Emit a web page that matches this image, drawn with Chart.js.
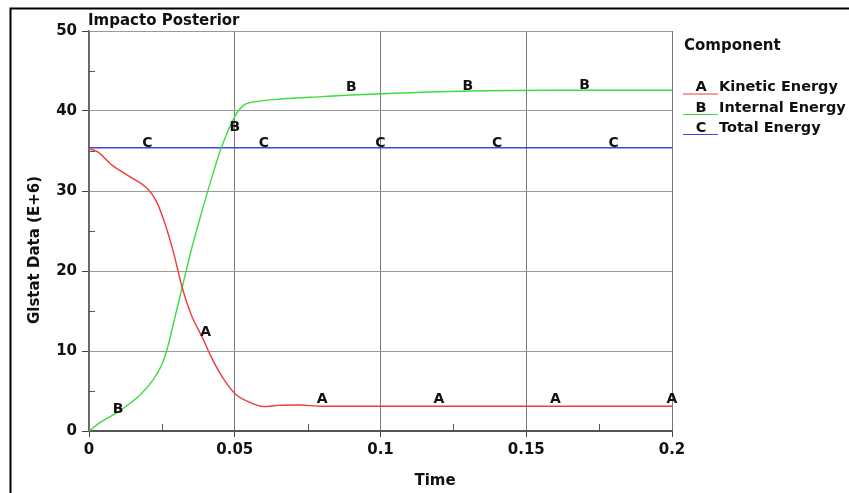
<!DOCTYPE html>
<html>
<head>
<meta charset="utf-8">
<script src="https://cdn.jsdelivr.net/npm/chart.js@4/dist/chart.umd.min.js"></script>
<style>
  html, body { margin: 0; padding: 0; background: #fff; }
  #wrap { width: 849px; height: 493px; }
</style>
</head>
<body>
<div id="wrap"><canvas id="chart" width="849" height="493"></canvas></div>
<script>
// values (time in s, energy in E+6)
var kineticTime = [0, 0.003, 0.008, 0.014, 0.02, 0.023, 0.026, 0.029, 0.032, 0.035, 0.039, 0.042, 0.046, 0.05, 0.055, 0.06, 0.065, 0.072, 0.08, 0.1, 0.15, 0.2];
var kinetic     = [35.3, 34.9, 33.2, 31.8, 30.3, 28.8, 26.0, 22.3, 17.9, 14.6, 11.6, 9.2, 6.6, 4.7, 3.6, 3.05, 3.2, 3.25, 3.1, 3.1, 3.1, 3.1];

var internalTime = [0, 0.004, 0.01, 0.0175, 0.022, 0.025, 0.027, 0.029, 0.032, 0.035, 0.038, 0.041, 0.045, 0.05, 0.053, 0.058, 0.066, 0.08, 0.09, 0.107, 0.13, 0.16, 0.2];
var internal     = [0, 1.1, 2.4, 4.5, 6.4, 8.3, 10.5, 13.5, 18.0, 22.5, 26.5, 30.3, 35.0, 39.3, 40.7, 41.2, 41.5, 41.8, 42.0, 42.25, 42.5, 42.6, 42.6];

var totalTime = [0, 0.2];
var total     = [35.4, 35.4];

// curve letters (LS-PrePost style markers)
var markA = [[0.04, 12.3], [0.08, 3.9], [0.12, 3.9], [0.16, 3.9], [0.2, 3.9]];
var markB = [[0.01, 2.75], [0.05, 37.9], [0.09, 42.9], [0.13, 43.1], [0.17, 43.25]];
var markC = [[0.02, 36.0], [0.06, 36.0], [0.1, 36.0], [0.14, 36.0], [0.18, 36.0]];

var seriesNames = ['Kinetic Energy', 'Internal Energy', 'Total Energy'];
var seriesLetters = ['A', 'B', 'C'];
var colors = ['#ee3b3b', '#3fdc3f', '#4444d6'];

var FONT = '"DejaVu Sans", sans-serif';

function pairs(xs, ys) {
  return xs.map(function(x, i) { return { x: x, y: ys[i] }; });
}

var decorPlugin = {
  id: 'decor',
  beforeDraw: function(chart) {
    var ctx = chart.ctx;
    ctx.save();
    ctx.fillStyle = '#fff';
    ctx.fillRect(0, 0, chart.width, chart.height);
    ctx.restore();
  },
  afterDraw: function(chart) {
    var ctx = chart.ctx;
    var xs = chart.scales.x, ys = chart.scales.y;
    var area = chart.chartArea;
    ctx.save();

    // minor ticks
    ctx.strokeStyle = '#555';
    ctx.lineWidth = 1;
    ctx.beginPath();
    [0.025, 0.075, 0.125, 0.175].forEach(function(v) {
      var px = Math.round(xs.getPixelForValue(v)) + 0.5;
      ctx.moveTo(px, area.bottom);
      ctx.lineTo(px, area.bottom - 7);
    });
    [5, 15, 25, 35, 45].forEach(function(v) {
      var py = Math.round(ys.getPixelForValue(v)) + 0.5;
      ctx.moveTo(area.left, py);
      ctx.lineTo(area.left + 6, py);
    });
    ctx.stroke();

    // letters on curves
    ctx.fillStyle = '#111';
    ctx.font = 'bold 14px ' + FONT;
    ctx.textAlign = 'center';
    ctx.textBaseline = 'middle';
    [markA, markB, markC].forEach(function(list, k) {
      list.forEach(function(p) {
        ctx.fillText(seriesLetters[k], xs.getPixelForValue(p[0]), ys.getPixelForValue(p[1]));
      });
    });

    // title and axis titles
    ctx.font = 'bold 15px ' + FONT;
    ctx.textAlign = 'left';
    ctx.fillText('Impacto Posterior', 88, 21);
    ctx.textAlign = 'center';
    ctx.fillText('Time', 435, 481);
    ctx.save();
    ctx.translate(35, 250);
    ctx.rotate(-Math.PI / 2);
    ctx.fillText('Glstat Data (E+6)', 0, 0);
    ctx.restore();

    // legend
    ctx.textAlign = 'left';
    ctx.fillText('Component', 684, 46);
    ctx.font = 'bold 14.5px ' + FONT;
    var rows = [87.5, 108, 128];
    seriesNames.forEach(function(name, i) {
      ctx.strokeStyle = colors[i];
      ctx.lineWidth = 1.2;
      ctx.beginPath();
      ctx.moveTo(683, rows[i] + 6.5);
      ctx.lineTo(718, rows[i] + 6.5);
      ctx.stroke();
      ctx.fillStyle = '#111';
      ctx.textAlign = 'center';
      ctx.fillText(seriesLetters[i], 701, rows[i]);
      ctx.textAlign = 'left';
      ctx.fillText(name, 719, rows[i]);
    });

    // frame of the picture (left and top edges only)
    ctx.strokeStyle = '#000';
    ctx.lineWidth = 2;
    ctx.beginPath();
    ctx.moveTo(10.5, chart.height);
    ctx.lineTo(10.5, 8.5);
    ctx.lineTo(chart.width, 8.5);
    ctx.stroke();
    ctx.restore();
  }
};

var data = {
  datasets: [
    { label: seriesNames[0], data: pairs(kineticTime, kinetic), borderColor: colors[0] },
    { label: seriesNames[1], data: pairs(internalTime, internal), borderColor: colors[1] },
    { label: seriesNames[2], data: pairs(totalTime, total), borderColor: colors[2] }
  ].map(function(d) {
    d.borderWidth = 1.4;
    d.pointRadius = 0;
    d.fill = false;
    d.cubicInterpolationMode = 'monotone';
    return d;
  })
};

var options = {
  responsive: false,
  animation: false,
  layout: { padding: { left: 0, top: 31, right: 177, bottom: 0 } },
  plugins: { legend: { display: false }, title: { display: false }, tooltip: { enabled: false } },
  scales: {
    x: {
      type: 'linear',
      min: 0, max: 0.2,
      afterFit: function(s) { s.height = 62; },
      ticks: {
        stepSize: 0.05,
        padding: 4,
        color: '#111',
        font: { family: FONT, size: 15, weight: 'bold' },
        maxRotation: 0,
        callback: function(v) { return String(Math.round(v * 100) / 100); }
      },
      grid: { color: '#7a7a7a', lineWidth: 1, tickLength: 6, tickColor: '#444' },
      border: { color: '#555', width: 2 }
    },
    y: {
      type: 'linear',
      min: 0, max: 50,
      afterFit: function(s) { s.width = 89; },
      ticks: {
        stepSize: 10,
        padding: 5,
        color: '#111',
        font: { family: FONT, size: 15, weight: 'bold' }
      },
      grid: { color: '#9a9a9a', lineWidth: 1, tickLength: 7, tickColor: '#444' },
      border: { color: '#666', width: 1.5 }
    }
  }
};

var chart = new Chart(document.getElementById('chart'), {
  type: 'line',
  data: data,
  options: options,
  plugins: [decorPlugin]
});
</script>
</body>
</html>
